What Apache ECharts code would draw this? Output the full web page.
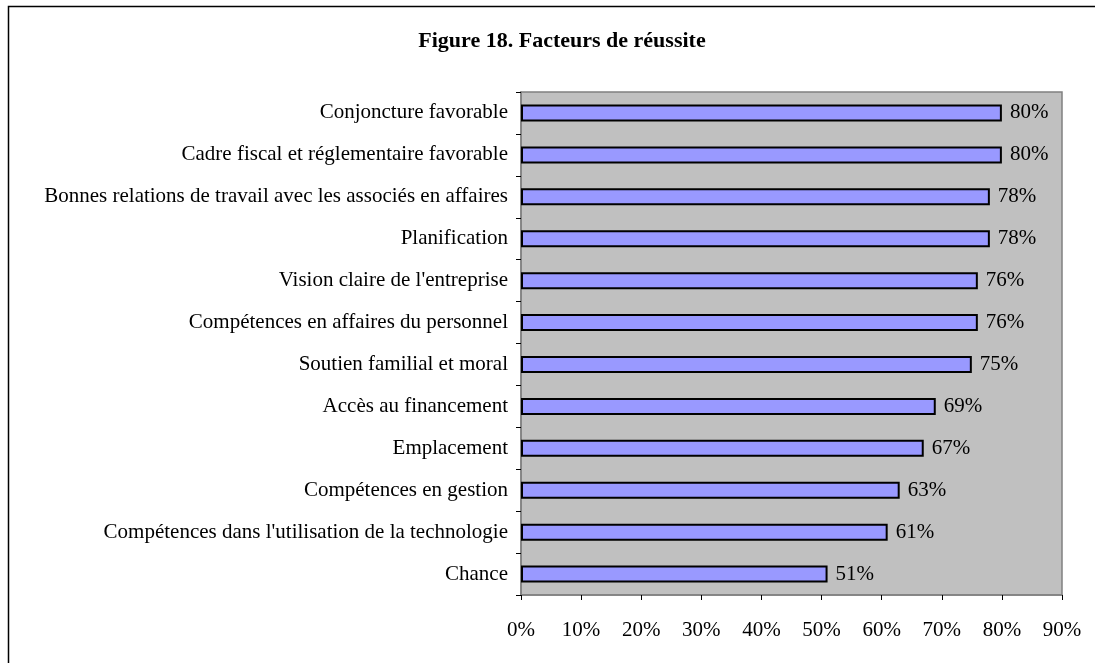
<!DOCTYPE html>
<html>
<head>
<meta charset="utf-8">
<script src="https://cdn.jsdelivr.net/npm/echarts@6/dist/echarts.min.js"></script>
<style>html,body{margin:0;padding:0;background:#fff;}#c{width:1095px;height:663px;}</style>
</head>
<body>
<div id="c"></div>
<script>
const categories = [
  "Conjoncture favorable",
  "Cadre fiscal et réglementaire favorable",
  "Bonnes relations de travail avec les associés en affaires",
  "Planification",
  "Vision claire de l'entreprise",
  "Compétences en affaires du personnel",
  "Soutien familial et moral",
  "Accès au financement",
  "Emplacement",
  "Compétences en gestion",
  "Compétences dans l'utilisation de la technologie",
  "Chance"
];
const values = [80, 80, 78, 78, 76, 76, 75, 69, 67, 63, 61, 51];
const xTicks = [0, 10, 20, 30, 40, 50, 60, 70, 80, 90];

const chart = echarts.init(document.getElementById('c'), null, {renderer: 'canvas'});
const font = '"Liberation Serif", "Times New Roman", serif';
chart.setOption({
  animation: false,
  backgroundColor: '#ffffff',
  graphic: [{
    type: 'rect',
    shape: {x: 8.5, y: 6.5, width: 1200, height: 800},
    style: {fill: 'none', stroke: '#000', lineWidth: 1.5},
    silent: true, z: 0
  }],
  title: {
    text: 'Figure 18. Facteurs de réussite',
    left: 557, top: 25, textAlign: 'center',
    textStyle: {fontFamily: font, fontWeight: 'bold', fontSize: 22, color: '#000'}
  },
  grid: {
    left: 521, right: 1095 - 1062, top: 92, bottom: 663 - 595,
    show: true, backgroundColor: '#c0c0c0', borderColor: '#808080', borderWidth: 1.5
  },
  xAxis: {
    type: 'value', min: 0, max: 90, interval: 10,
    axisLine: {show: true, lineStyle: {color: '#808080', width: 1.5}},
    axisTick: {show: true, length: 5, inside: false, lineStyle: {color: '#000'}},
    splitLine: {show: false},
    axisLabel: {
      margin: 25, color: '#000', fontFamily: font, fontSize: 21,
      formatter: v => xTicks.includes(v) ? v + '%' : ''
    }
  },
  yAxis: {
    type: 'category', inverse: true, data: categories,
    axisLine: {show: true, lineStyle: {color: '#808080', width: 1.5}},
    axisTick: {show: true, length: 5, lineStyle: {color: '#000'}},
    axisLabel: {margin: 13, color: '#000', fontFamily: font, fontSize: 21, interval: 0}
  },
  series: [{
    type: 'bar', data: values, barWidth: 17,
    itemStyle: {color: '#9999ff', borderColor: '#000', borderWidth: 2},
    label: {
      show: true, position: 'right', distance: 8, formatter: '{c}%',
      color: '#000', fontFamily: font, fontSize: 21
    }
  }]
});
</script>
</body>
</html>
